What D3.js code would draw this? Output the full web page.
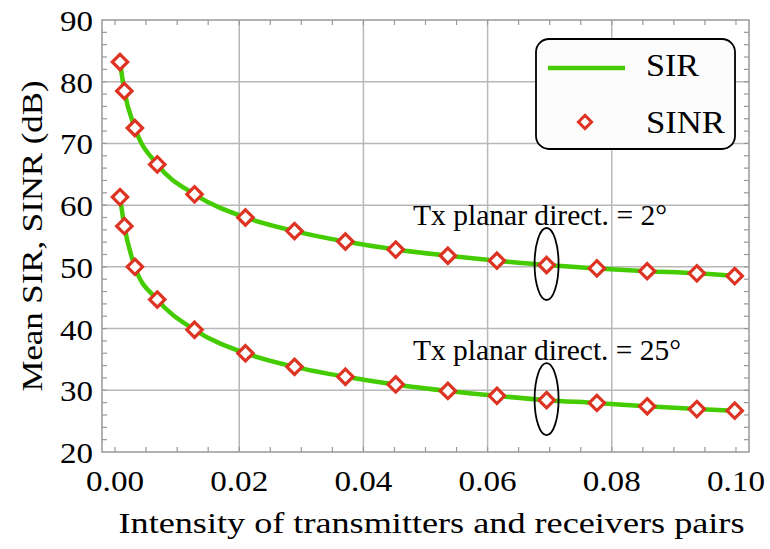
<!DOCTYPE html>
<html lang="en">
<head>
    <meta charset="utf-8">
    <title>Mean SIR / SINR</title>
    <style type="text/css">
        body { margin: 0; background: white; }
    </style>
    <script type="text/javascript" src="https://d3js.org/d3.v7.min.js"></script>
</head>
<body>
<script type="text/javascript">
    // intensity values (x) where the curves were sampled
    let intensity = [0.0008, 0.0015, 0.0032, 0.0068, 0.0128, 0.021, 0.0289, 0.0371,
                     0.0452, 0.0536, 0.0615, 0.0695, 0.0776, 0.0857, 0.0937, 0.0998];

    // Tx planar directivity = 2 deg
    let sir2 = [83.2, 78.5, 72.5, 66.6, 61.75, 58.0, 55.8, 54.1,
                52.8, 51.8, 51.0, 50.3, 49.75, 49.3, 48.95, 48.5];
    let sinr2 = [83.2, 78.5, 72.5, 66.6, 61.75, 58.0, 55.8, 54.1,
                 52.8, 51.8, 51.0, 50.3, 49.75, 49.3, 48.95, 48.5];

    // Tx planar directivity = 25 deg
    let sir25 = [61.3, 56.6, 50.0, 44.7, 39.8, 36.0, 33.8, 32.2,
                 30.95, 29.9, 29.1, 28.4, 27.95, 27.4, 26.95, 26.7];
    let sinr25 = [61.3, 56.6, 50.0, 44.7, 39.8, 36.0, 33.8, 32.2,
                  30.95, 29.9, 29.1, 28.4, 27.95, 27.4, 26.95, 26.7];

    let xTicks = [0.00, 0.02, 0.04, 0.06, 0.08, 0.10];
    let yTicks = [20, 30, 40, 50, 60, 70, 80, 90];
    let annotations = ["Tx planar direct. = 2\u00b0", "Tx planar direct. = 25\u00b0"];
    let legendLabels = ["SIR", "SINR"];

    let w = 770;
    let h = 549;
    let green = "#44cc00";
    let red = "#dd3322";
    let gridColor = "#b8b8b8";
    let serif = "'Liberation Serif'";

    let svg = d3.select("body").append("svg")
        .attr("width", w)
        .attr("height", h)
        .style("background-color", "white");

    let x = d3.scaleLinear().domain([-0.0021, 0.1021]).range([102, 749]);
    let y = d3.scaleLinear().domain([20, 90]).range([452, 20]);

    // grid
    svg.append("g").selectAll("line")
        .data(xTicks.filter(d => d > 0 && d < 0.1))
        .enter().append("line")
            .attr("x1", d => x(d)).attr("x2", d => x(d))
            .attr("y1", y(20)).attr("y2", y(90))
            .attr("stroke", gridColor).attr("stroke-width", 1.5);

    svg.append("g").selectAll("line")
        .data(yTicks.filter(d => d > 20 && d < 90))
        .enter().append("line")
            .attr("x1", x.range()[0]).attr("x2", x.range()[1])
            .attr("y1", d => y(d)).attr("y2", d => y(d))
            .attr("stroke", gridColor).attr("stroke-width", 1.5);

    // minor ticks, inward, on all four sides
    let xMinor = d3.range(0, 0.1001, 0.005);
    let yMinor = d3.range(22, 90, 2);
    let tickColor = "#999";

    let tg = svg.append("g").attr("stroke", tickColor).attr("stroke-width", 1.2);
    xMinor.forEach(function (d) {
        tg.append("line").attr("x1", x(d)).attr("x2", x(d)).attr("y1", y(20)).attr("y2", y(20) - 5);
        tg.append("line").attr("x1", x(d)).attr("x2", x(d)).attr("y1", y(90)).attr("y2", y(90) + 5);
    });
    yMinor.forEach(function (d) {
        tg.append("line").attr("x1", x.range()[0]).attr("x2", x.range()[0] + 5).attr("y1", y(d)).attr("y2", y(d));
        tg.append("line").attr("x1", x.range()[1]).attr("x2", x.range()[1] - 5).attr("y1", y(d)).attr("y2", y(d));
    });

    // frame
    svg.append("rect")
        .attr("x", x.range()[0]).attr("y", y(90))
        .attr("width", x.range()[1] - x.range()[0])
        .attr("height", y(20) - y(90))
        .attr("fill", "none")
        .attr("stroke", "#999")
        .attr("stroke-width", 1.5);

    // tick labels
    svg.append("g").selectAll("text")
        .data(xTicks)
        .enter().append("text")
            .text(d => d.toFixed(2))
            .attr("x", d => x(d))
            .attr("y", 491)
            .attr("text-anchor", "middle")
            .style("font-family", serif)
            .attr("font-size", 29)
            .attr("textLength", 58)
            .attr("lengthAdjust", "spacingAndGlyphs");

    svg.append("g").selectAll("text")
        .data(yTicks)
        .enter().append("text")
            .text(d => d)
            .attr("x", 93)
            .attr("y", d => y(d) + 11)
            .attr("text-anchor", "end")
            .style("font-family", serif)
            .attr("font-size", 30)
            .attr("textLength", 33)
            .attr("lengthAdjust", "spacingAndGlyphs");

    // axis titles
    svg.append("text")
        .text("Intensity of transmitters and receivers pairs")
        .attr("x", 431.5)
        .attr("y", 533)
        .attr("text-anchor", "middle")
        .style("font-family", serif)
        .attr("font-size", 30)
        .attr("textLength", 626)
        .attr("lengthAdjust", "spacingAndGlyphs");

    svg.append("text")
        .text("Mean SIR, SINR (dB)")
        .attr("transform", "translate(42," + ((y(20) + y(90)) / 2) + ") rotate(-90)")
        .attr("text-anchor", "middle")
        .style("font-family", serif)
        .attr("font-size", 30)
        .attr("textLength", 311)
        .attr("lengthAdjust", "spacingAndGlyphs");

    // curves
    let line = d3.line()
        .x((d, i) => x(intensity[i]))
        .y(d => y(d))
        .curve(d3.curveMonotoneX);

    [sir2, sir25].forEach(function (s) {
        svg.append("path")
            .attr("d", line(s))
            .attr("fill", "none")
            .attr("stroke", green)
            .attr("stroke-width", 4.5);
    });

    let diamond = d3.symbol().type(d3.symbolDiamond2).size(150);

    [sinr2, sinr25].forEach(function (s) {
        svg.append("g").selectAll("path")
            .data(s)
            .enter().append("path")
                .attr("d", diamond)
                .attr("transform", (d, i) => "translate(" + x(intensity[i]) + "," + y(d) + ")")
                .attr("fill", "white")
                .attr("stroke", red)
                .attr("stroke-width", 3.2);
    });

    // annotations: ellipses around one sample and labels
    let markIdx = 11;
    [sinr2, sinr25].forEach(function (s, k) {
        svg.append("ellipse")
            .attr("cx", x(intensity[markIdx]))
            .attr("cy", y(s[markIdx]) - 1)
            .attr("rx", 12)
            .attr("ry", 36)
            .attr("fill", "none")
            .attr("stroke", "black")
            .attr("stroke-width", 1.8);

        svg.append("text")
            .text(annotations[k])
            .attr("x", 413)
            .attr("y", y(s[markIdx]) - 40)
            .style("font-family", serif)
            .attr("font-size", 29)
            .attr("textLength", k === 0 ? 254 : 268)
            .attr("lengthAdjust", "spacingAndGlyphs");
    });

    // legend
    let lg = svg.append("g");
    lg.append("rect")
        .attr("x", 536).attr("y", 39)
        .attr("width", 199).attr("height", 110)
        .attr("rx", 13).attr("ry", 13)
        .attr("fill", "#fcfcfc")
        .attr("stroke", "black")
        .attr("stroke-width", 1.8);
    lg.append("line")
        .attr("x1", 548).attr("x2", 625)
        .attr("y1", 68).attr("y2", 68)
        .attr("stroke", green)
        .attr("stroke-width", 4.5);
    lg.append("path")
        .attr("d", d3.symbol().type(d3.symbolDiamond2).size(110))
        .attr("transform", "translate(585,122)")
        .attr("fill", "white")
        .attr("stroke", red)
        .attr("stroke-width", 3);
    lg.selectAll("text")
        .data(legendLabels)
        .enter().append("text")
            .text(d => d)
            .attr("x", 646)
            .attr("y", (d, i) => 76 + i * 57)
            .style("font-family", serif)
            .attr("font-size", 32)
            .attr("textLength", (d, i) => i === 0 ? 53 : 79)
            .attr("lengthAdjust", "spacingAndGlyphs");
</script>
</body>
</html>
